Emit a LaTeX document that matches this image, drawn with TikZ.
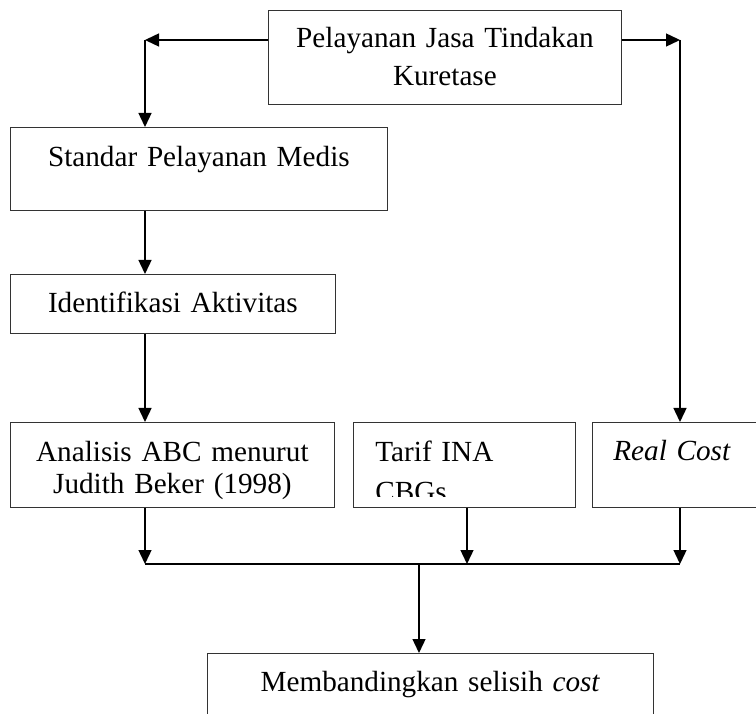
\documentclass[tikz,border=0pt]{standalone}
\usepackage{fontspec}
\setmainfont{Liberation Serif}
\usetikzlibrary{arrows.meta, calc}

\begin{document}
\begin{tikzpicture}[x=1pt, y=-1pt,
  font=\fontsize{29.2pt}{32pt}\selectfont,
  box/.style={draw=black!80, line width=0.8pt, anchor=north west, inner sep=0pt, align=center},
  arr/.style={-{Triangle[length=14pt, width=13pt]}, line width=1.4pt},
  bus/.style={line width=1.4pt}]
\useasboundingbox (0,0) rectangle (756,714);

\node[box, text width=353pt, text height=37pt, text depth=57pt,
  font=\fontsize{29.2pt}{38.5pt}\selectfont] (top) at (268,10) {Pelayanan Jasa Tindakan\\Kuretase};
\node[box, text width=377pt, text height=39pt, text depth=44pt] (std) at (10,127) {Standar Pelayanan Medis};
\node[box, text width=325pt, text height=38pt, text depth=21pt] (ident) at (10,274) {Identifikasi Aktivitas};
\node[box, text width=324pt, text height=39pt, text depth=46pt] (abc) at (10,422) {Analisis ABC menurut\\Judith Beker (1998)};
\node[box, minimum width=222pt, minimum height=85pt] (tarif) at (353,422) {};
\begin{scope}
  \clip (tarif.north west) rectangle ([yshift=11pt]tarif.south east);
  \node[box, draw=none, text width=180pt, align=left, text height=39pt, text depth=40pt,
    font=\fontsize{29.2pt}{40pt}\selectfont] (tariftxt) at (375,422) {Tarif INA\\CBGs};
\end{scope}
\node[box, text width=141pt, inner xsep=21pt, align=left, text height=38pt, text depth=47pt] (real) at (592,422) {\textit{Real Cost}};
\node[box, text width=446pt, text height=38pt, text depth=50pt] (mband) at (207,653) {Membandingkan selisih \textit{cost}};

\coordinate (lc) at (145,40);
\coordinate (rc) at (680,40);
\coordinate (bl) at (145,564);
\coordinate (bm) at (467,564);
\coordinate (br) at (680,564);
\coordinate (bj) at (419,564);

\draw[arr] (lc -| top.west) -- (lc);
\draw[arr] (lc) -- (lc |- std.north);
\draw[arr] (rc -| top.east) -- (rc);
\draw[arr] (rc) -- (rc |- real.north);
\draw[arr] (lc |- std.south) -- (lc |- ident.north);
\draw[arr] (lc |- ident.south) -- (lc |- abc.north);
\draw[arr] (lc |- abc.south) -- (bl);
\draw[arr] (bm |- tarif.south) -- (bm);
\draw[arr] (rc |- real.south) -- (br);
\draw[bus] (bl) -- (br);
\draw[arr] (bj) -- (bj |- mband.north);
\end{tikzpicture}
\end{document}
